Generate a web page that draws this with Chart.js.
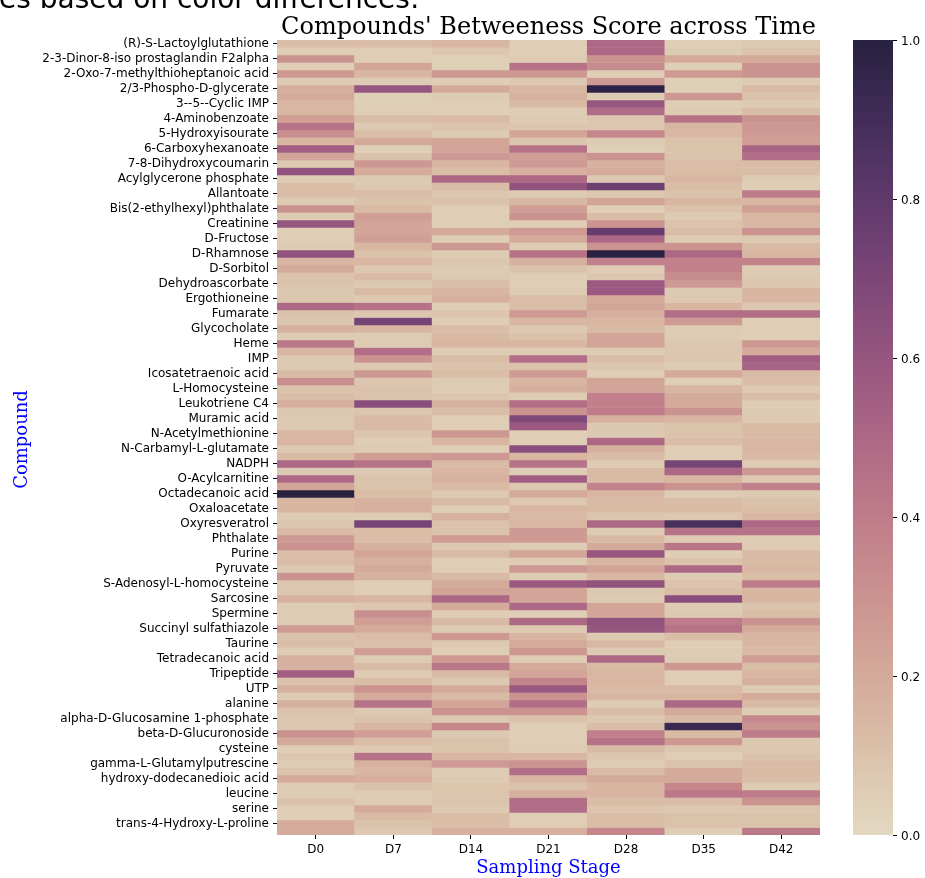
<!DOCTYPE html>
<html>
<head>
<meta charset="utf-8">
<script src="https://cdn.jsdelivr.net/npm/chart.js@4.4.1/dist/chart.umd.min.js"></script>
<style>
  html, body { margin: 0; padding: 0; background: #fff; }
  #wrap { position: relative; width: 925px; height: 878px; overflow: hidden; }
  canvas { display: block; }
</style>
</head>
<body>
<div id="wrap"><canvas id="heat" width="925" height="878"></canvas></div>
<script>
// Sampling stages (columns)
const stages = ['D0', 'D7', 'D14', 'D21', 'D28', 'D35', 'D42'];

// Compound names shown on the y axis (every other row of the matrix carries a name)
const compounds = [
  '(R)-S-Lactoylglutathione', '2-3-Dinor-8-iso prostaglandin F2alpha', '2-Oxo-7-methylthioheptanoic acid',
  '2/3-Phospho-D-glycerate', '3--5--Cyclic IMP', '4-Aminobenzoate', '5-Hydroxyisourate',
  '6-Carboxyhexanoate', '7-8-Dihydroxycoumarin', 'Acylglycerone phosphate', 'Allantoate',
  'Bis(2-ethylhexyl)phthalate', 'Creatinine', 'D-Fructose', 'D-Rhamnose', 'D-Sorbitol',
  'Dehydroascorbate', 'Ergothioneine', 'Fumarate', 'Glycocholate', 'Heme', 'IMP',
  'Icosatetraenoic acid', 'L-Homocysteine', 'Leukotriene C4', 'Muramic acid', 'N-Acetylmethionine',
  'N-Carbamyl-L-glutamate', 'NADPH', 'O-Acylcarnitine', 'Octadecanoic acid', 'Oxaloacetate',
  'Oxyresveratrol', 'Phthalate', 'Purine', 'Pyruvate', 'S-Adenosyl-L-homocysteine', 'Sarcosine',
  'Spermine', 'Succinyl sulfathiazole', 'Taurine', 'Tetradecanoic acid', 'Tripeptide', 'UTP',
  'alanine', 'alpha-D-Glucosamine 1-phosphate', 'beta-D-Glucuronoside', 'cysteine',
  'gamma-L-Glutamylputrescine', 'hydroxy-dodecanedioic acid', 'leucine', 'serine',
  'trans-4-Hydroxy-L-proline'
];

// Betweenness scores per stage, one value per matrix row (106 rows, top to bottom)
const d0 = [0.12,0.05,0.3,0.05,0.28,0.06,0.18,0.2,0.15,0.15,
  0.25,0.45,0.32,0.15,0.55,0.22,0.07,0.62,0.06,0.12,
  0.12,0.06,0.3,0.06,0.6,0.05,0.05,0.06,0.62,0.15,
  0.2,0.1,0.1,0.07,0.08,0.5,0.1,0.08,0.17,0.06,
  0.42,0.15,0.07,0.07,0.13,0.32,0.1,0.12,0.18,0.07,
  0.07,0.07,0.15,0.15,0.07,0.13,0.5,0.07,0.5,0.22,
  1.0,0.15,0.15,0.06,0.08,0.13,0.27,0.3,0.12,0.12,
  0.07,0.3,0.08,0.08,0.17,0.06,0.06,0.06,0.27,0.1,
  0.12,0.06,0.17,0.17,0.55,0.1,0.17,0.06,0.17,0.1,
  0.08,0.08,0.3,0.2,0.05,0.08,0.06,0.1,0.2,0.06,
  0.06,0.1,0.05,0.05,0.2,0.2];
const d7 = [0.12,0.05,0.05,0.22,0.15,0.06,0.6,0.04,0.04,0.05,
  0.12,0.07,0.12,0.2,0.04,0.1,0.28,0.2,0.07,0.07,
  0.12,0.1,0.13,0.25,0.22,0.22,0.25,0.15,0.1,0.15,
  0.07,0.13,0.07,0.13,0.07,0.45,0.08,0.72,0.15,0.06,
  0.06,0.47,0.3,0.07,0.28,0.08,0.1,0.1,0.65,0.08,
  0.13,0.13,0.08,0.05,0.06,0.25,0.45,0.07,0.1,0.1,
  0.12,0.17,0.17,0.06,0.72,0.12,0.12,0.17,0.22,0.17,
  0.2,0.17,0.05,0.05,0.15,0.08,0.32,0.25,0.2,0.12,
  0.1,0.25,0.06,0.13,0.06,0.12,0.3,0.2,0.45,0.07,
  0.1,0.15,0.25,0.12,0.07,0.45,0.17,0.15,0.18,0.1,
  0.06,0.06,0.2,0.13,0.1,0.07];
const d14 = [0.15,0.08,0.04,0.04,0.28,0.05,0.2,0.06,0.05,0.04,
  0.13,0.1,0.06,0.22,0.22,0.27,0.15,0.12,0.5,0.12,
  0.08,0.1,0.05,0.05,0.05,0.2,0.05,0.28,0.06,0.08,
  0.06,0.07,0.12,0.15,0.17,0.05,0.09,0.05,0.12,0.13,
  0.15,0.06,0.12,0.1,0.12,0.06,0.06,0.08,0.17,0.12,
  0.05,0.05,0.28,0.15,0.05,0.28,0.13,0.15,0.17,0.13,
  0.07,0.13,0.05,0.17,0.1,0.1,0.27,0.07,0.13,0.05,
  0.05,0.13,0.2,0.22,0.5,0.2,0.05,0.13,0.06,0.28,
  0.07,0.05,0.27,0.42,0.13,0.07,0.2,0.13,0.22,0.3,
  0.07,0.35,0.07,0.1,0.1,0.15,0.27,0.06,0.06,0.09,
  0.09,0.09,0.07,0.12,0.12,0.18];
const d21 = [0.05,0.05,0.06,0.45,0.28,0.07,0.15,0.17,0.13,0.05,
  0.06,0.08,0.22,0.08,0.45,0.25,0.27,0.18,0.5,0.62,
  0.06,0.14,0.25,0.3,0.05,0.27,0.2,0.06,0.45,0.17,
  0.1,0.05,0.05,0.06,0.12,0.12,0.27,0.15,0.07,0.1,
  0.15,0.06,0.47,0.1,0.27,0.15,0.18,0.06,0.47,0.3,
  0.68,0.58,0.05,0.05,0.65,0.15,0.45,0.05,0.55,0.07,
  0.2,0.07,0.15,0.13,0.15,0.27,0.27,0.06,0.22,0.06,
  0.28,0.06,0.58,0.22,0.22,0.5,0.05,0.5,0.07,0.15,
  0.2,0.28,0.06,0.2,0.22,0.37,0.58,0.3,0.47,0.3,
  0.1,0.05,0.05,0.05,0.06,0.15,0.3,0.47,0.15,0.1,
  0.17,0.47,0.47,0.05,0.05,0.18];
const d28 = [0.5,0.5,0.3,0.33,0.05,0.27,0.98,0.06,0.6,0.48,
  0.08,0.08,0.35,0.06,0.04,0.3,0.17,0.2,0.07,0.75,
  0.08,0.22,0.04,0.12,0.3,0.78,0.5,0.3,1.0,0.38,
  0.06,0.08,0.58,0.58,0.2,0.22,0.18,0.15,0.13,0.22,
  0.22,0.06,0.12,0.08,0.05,0.22,0.22,0.38,0.38,0.4,
  0.18,0.07,0.07,0.5,0.17,0.12,0.06,0.13,0.13,0.37,
  0.15,0.13,0.13,0.08,0.5,0.06,0.13,0.2,0.6,0.15,
  0.22,0.15,0.62,0.07,0.06,0.22,0.22,0.62,0.6,0.07,
  0.14,0.06,0.5,0.13,0.15,0.15,0.13,0.15,0.06,0.12,
  0.07,0.12,0.38,0.45,0.13,0.08,0.06,0.13,0.2,0.15,
  0.15,0.12,0.09,0.12,0.12,0.35];
const d35 = [0.05,0.06,0.2,0.04,0.27,0.04,0.04,0.28,0.05,0.06,
  0.45,0.15,0.14,0.1,0.1,0.1,0.12,0.12,0.15,0.12,
  0.1,0.15,0.1,0.06,0.1,0.12,0.06,0.3,0.5,0.38,
  0.38,0.33,0.27,0.06,0.07,0.15,0.47,0.27,0.06,0.06,
  0.08,0.08,0.08,0.06,0.2,0.05,0.15,0.2,0.2,0.3,
  0.15,0.1,0.1,0.12,0.05,0.05,0.72,0.5,0.15,0.3,
  0.06,0.12,0.13,0.07,0.88,0.45,0.06,0.43,0.05,0.1,
  0.5,0.06,0.1,0.12,0.65,0.06,0.07,0.4,0.45,0.12,
  0.05,0.06,0.06,0.28,0.05,0.05,0.13,0.15,0.5,0.2,
  0.13,0.93,0.13,0.28,0.08,0.05,0.1,0.2,0.2,0.35,
  0.42,0.12,0.07,0.1,0.1,0.05];
const d42 = [0.07,0.1,0.2,0.3,0.3,0.06,0.13,0.1,0.06,0.12,
  0.3,0.28,0.27,0.25,0.52,0.47,0.12,0.12,0.06,0.05,
  0.4,0.15,0.25,0.15,0.14,0.3,0.07,0.13,0.15,0.37,
  0.06,0.07,0.08,0.15,0.15,0.08,0.47,0.05,0.05,0.05,
  0.28,0.2,0.55,0.52,0.13,0.12,0.07,0.12,0.06,0.06,
  0.07,0.13,0.13,0.14,0.15,0.13,0.06,0.28,0.07,0.38,
  0.07,0.1,0.12,0.15,0.5,0.45,0.06,0.06,0.13,0.13,
  0.15,0.12,0.4,0.15,0.15,0.1,0.12,0.3,0.2,0.15,
  0.14,0.13,0.25,0.12,0.15,0.18,0.06,0.2,0.13,0.06,
  0.35,0.3,0.4,0.07,0.08,0.1,0.13,0.13,0.12,0.06,
  0.4,0.3,0.08,0.1,0.1,0.42];

const colorbarTicks = [0.0, 0.2, 0.4, 0.6, 0.8, 1.0];

const series = [d0, d7, d14, d21, d28, d35, d42];
const rowCount = d0.length;

// cubehelix colormap ("ch:s=-.2,r=.6": start -0.2, rotation 0.6, hue 0.8, light .85 -> dark .15)
function cubehelix(v) {
  const start = -0.2, rot = 0.6, hue = 0.8, light = 0.85, dark = 0.15;
  const t = Math.min(1, Math.max(0, v));
  const x = light + (dark - light) * t;
  const amp = hue * x * (1 - x) / 2;
  const phi = 2 * Math.PI * (start / 3 + rot * x);
  const c = Math.cos(phi), s = Math.sin(phi);
  const ch = [
    x + amp * (-0.14861 * c + 1.78277 * s),
    x + amp * (-0.29227 * c - 0.90649 * s),
    x + amp * (1.97294 * c)
  ].map(k => Math.round(255 * Math.min(1, Math.max(0, k))));
  return `rgb(${ch[0]},${ch[1]},${ch[2]})`;
}

// One floating-bar dataset per matrix row; each bar spans one row on the value axis
const datasets = [];
for (let r = 0; r < rowCount; r++) {
  datasets.push({
    data: stages.map(() => [r, r + 1]),
    backgroundColor: series.map(col => cubehelix(col[r])),
    borderWidth: 0,
    grouped: false,
    categoryPercentage: 1,
    barPercentage: 1
  });
}

const FONT = '"DejaVu Sans", sans-serif';
const SERIF = '"DejaVu Serif", serif';

const decorations = {
  id: 'decorations',
  afterDraw(chart) {
    const { ctx, chartArea } = chart;
    const midX = (chartArea.left + chartArea.right) / 2;
    const midY = (chartArea.top + chartArea.bottom) / 2;
    ctx.save();

    // text running off the top edge
    ctx.fillStyle = '#000';
    ctx.font = '28px ' + FONT;
    ctx.textAlign = 'left';
    ctx.textBaseline = 'alphabetic';
    ctx.fillText('es based on color differences:', -1, 8);

    // title
    ctx.font = '24px ' + SERIF;
    ctx.textAlign = 'center';
    ctx.fillText("Compounds' Betweeness Score across Time", midX, 34);

    // axis titles
    ctx.fillStyle = '#0000ff';
    ctx.font = '18px ' + SERIF;
    ctx.textBaseline = 'middle';
    ctx.fillText('Sampling Stage', midX, 868);
    ctx.save();
    ctx.translate(22, midY + 2);
    ctx.rotate(-Math.PI / 2);
    ctx.fillText('Compound', 0, 0);
    ctx.restore();

    // colorbar
    const cbLeft = 853, cbWidth = 40;
    const top = chartArea.top, bottom = chartArea.bottom, h = bottom - top;
    for (let y = 0; y < h; y++) {
      ctx.fillStyle = cubehelix(1 - (y + 0.5) / h);
      ctx.fillRect(cbLeft, top + y, cbWidth, 1);
    }
    ctx.strokeStyle = '#000';
    ctx.lineWidth = 1;
    ctx.fillStyle = '#000';
    ctx.font = '12px ' + FONT;
    ctx.textAlign = 'left';
    ctx.textBaseline = 'middle';
    colorbarTicks.forEach(v => {
      const y = Math.round(bottom - v * h) + 0.5;
      ctx.beginPath();
      ctx.moveTo(cbLeft + cbWidth, y);
      ctx.lineTo(cbLeft + cbWidth + 4, y);
      ctx.stroke();
      ctx.fillText(v.toFixed(1), cbLeft + cbWidth + 8, y + 1);
    });
    ctx.restore();
  }
};

new Chart(document.getElementById('heat'), {
  type: 'bar',
  data: { labels: stages, datasets },
  options: {
    responsive: false,
    animation: false,
    devicePixelRatio: 1,
    layout: { padding: { top: 40, right: 105, left: 0, bottom: 0 } },
    plugins: { legend: { display: false }, tooltip: { enabled: false }, title: { display: false } },
    scales: {
      x: {
        type: 'category',
        offset: true,
        border: { display: false },
        grid: { offset: false, drawOnChartArea: false, drawTicks: true, tickLength: 4, color: '#000', lineWidth: 1 },
        ticks: { color: '#000', font: { family: FONT, size: 12 }, padding: 4, maxRotation: 0 },
        afterFit(scale) { scale.height = 43; }
      },
      y: {
        type: 'linear',
        min: 0,
        max: rowCount,
        reverse: true,
        border: { display: false },
        grid: { drawOnChartArea: false, drawTicks: true, tickLength: 4, color: '#000', lineWidth: 1 },
        ticks: {
          autoSkip: false,
          color: '#000',
          font: { family: FONT, size: 12 },
          padding: 4,
          callback: (value, index) => compounds[index]
        },
        afterBuildTicks(scale) {
          scale.ticks = compounds.map((_, k) => ({ value: 2 * k + 0.5 }));
        },
        afterFit(scale) { scale.width = 277; }
      }
    }
  },
  plugins: [decorations]
});
</script>
</body>
</html>
